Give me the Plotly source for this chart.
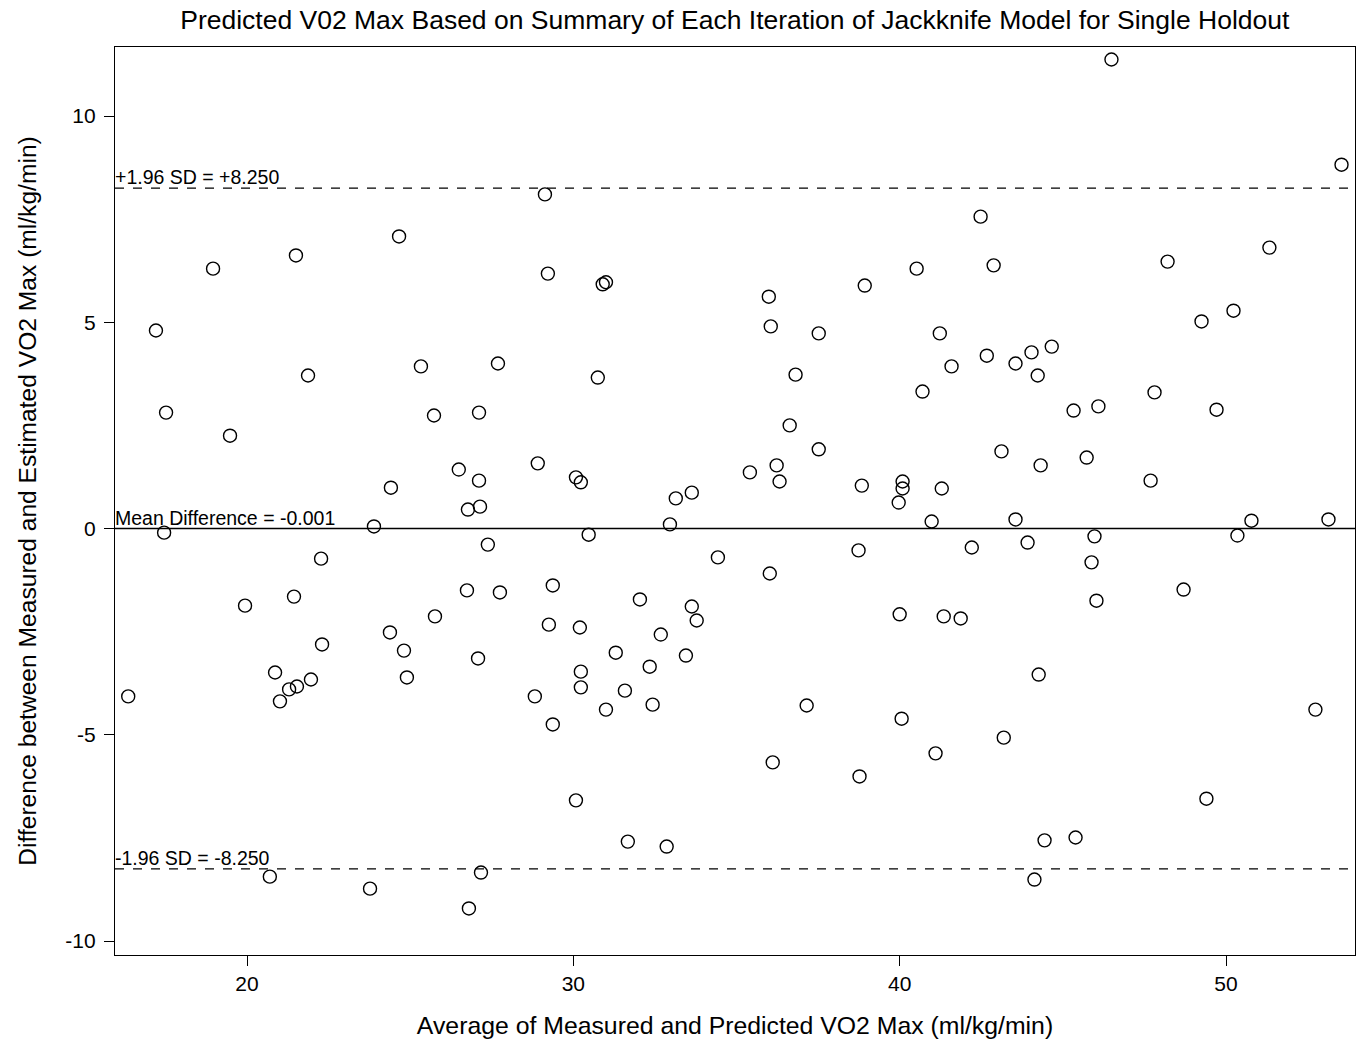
import plotly.graph_objects as go

# Average of measured and predicted VO2 max (ml/kg/min)
avg_vo2 = [
    16.36, 17.21, 17.52, 17.46, 18.96, 19.48, 19.94, 20.70, 20.86, 21.01,
    21.29, 21.53, 21.44, 21.50, 21.87, 21.96, 22.27, 22.30, 23.77, 23.89,
    24.41, 24.38, 24.66, 24.81, 24.90, 25.33, 25.73, 25.76, 26.49, 26.77,
    26.74, 26.80, 27.08, 27.11, 27.11, 27.14, 27.17, 27.38, 27.69, 27.75,
    28.82, 28.91, 29.13, 29.22, 29.25, 29.37, 29.37, 30.08, 30.08, 30.20,
    30.23, 30.23, 30.23, 30.47, 30.75, 30.90, 31.00, 31.00, 31.30, 31.58,
    31.67, 32.04, 32.34, 32.43, 32.68, 32.86, 32.96, 33.14, 33.45, 33.63,
    33.63, 33.78, 34.43, 35.41, 35.99, 36.02, 36.05, 36.11, 36.23, 36.32,
    36.63, 36.81, 37.15, 37.52, 37.52, 38.74, 38.77, 38.84, 38.93, 39.97,
    40.00, 40.06, 40.09, 40.09, 40.52, 40.70, 40.98, 41.10, 41.23, 41.29,
    41.35, 41.59, 41.87, 42.21, 42.48, 42.67, 42.88, 43.12, 43.19, 43.55,
    43.55, 43.92, 44.04, 44.13, 44.23, 44.26, 44.32, 44.44, 44.66, 45.33,
    45.39, 45.73, 45.88, 45.97, 46.03, 46.09, 46.49, 47.69, 47.81, 48.21,
    48.70, 49.25, 49.40, 49.71, 50.23, 50.35, 50.78, 51.33, 52.74, 53.14,
    53.54,
]

# Difference between measured and estimated VO2 max (ml/kg/min)
diff_vo2 = [
    -4.07, 4.80, 2.81, -0.10, 6.30, 2.25, -1.87, -8.44, -3.49, -4.19,
    -3.90, -3.83, -1.65, 6.62, 3.71, -3.66, -0.73, -2.81, -8.73, 0.05,
    0.99, -2.52, 7.08, -2.96, -3.61, 3.93, 2.74, -2.13, 1.43, 0.46,
    -1.50, -9.21, -3.15, 2.81, 1.16, 0.53, -8.34, -0.39, 4.00, -1.55,
    -4.07, 1.58, 8.10, 6.18, -2.33, -1.38, -4.75, 1.24, -6.59, -2.40,
    1.12, -3.47, -3.85, -0.15, 3.66, 5.92, 5.97, -4.39, -3.01, -3.93,
    -7.59, -1.72, -3.35, -4.27, -2.57, -7.71, 0.10, 0.73, -3.08, 0.87,
    -1.89, -2.23, -0.70, 1.36, 5.62, -1.09, 4.90, -5.67, 1.53, 1.14,
    2.50, 3.73, -4.29, 4.73, 1.92, -0.53, -6.01, 1.04, 5.89, 0.63,
    -2.08, -4.61, 1.14, 0.97, 6.30, 3.32, 0.17, -5.45, 4.73, 0.97,
    -2.13, 3.93, -2.18, -0.46, 7.56, 4.19, 6.38, 1.87, -5.07, 4.00,
    0.22, -0.34, 4.27, -8.51, 3.71, -3.54, 1.53, -7.56, 4.41, 2.86,
    -7.49, 1.72, -0.82, -0.19, -1.75, 2.96, 11.37, 1.16, 3.30, 6.47,
    -1.48, 5.02, -6.55, 2.88, 5.28, -0.17, 0.19, 6.81, -4.39, 0.22,
    8.82,
]

mean_diff = -0.001
upper_loa = 8.250
lower_loa = -8.250

x_ticks = [20, 30, 40, 50]
y_ticks = [-10, -5, 0, 5, 10]

FONT = "Liberation Sans, Arial, sans-serif"

fig = go.Figure()
fig.add_trace(go.Scatter(
    x=avg_vo2, y=diff_vo2, mode="markers",
    marker=dict(symbol="circle-open", size=13, color="black",
                line=dict(width=1.4, color="black")),
    showlegend=False, hoverinfo="x+y", cliponaxis=True,
))

fig.add_hline(y=mean_diff, line=dict(color="black", width=1.5))
fig.add_hline(y=upper_loa, line=dict(color="black", width=1.2, dash="dash"))
fig.add_hline(y=lower_loa, line=dict(color="black", width=1.2, dash="dash"))

ann_font = dict(family=FONT, size=19.5, color="black")
for yv, txt in [(upper_loa, "+1.96 SD = +8.250"),
                (mean_diff, "Mean Difference = -0.001"),
                (lower_loa, "-1.96 SD = -8.250")]:
    fig.add_annotation(x=0, xref="paper", y=yv, yref="y", text=txt,
                       showarrow=False, xanchor="left", yanchor="bottom",
                       xshift=-2, yshift=-2, font=ann_font)

fig.update_layout(
    width=1359, height=1040,
    margin=dict(l=115, r=4, t=47, b=85),
    paper_bgcolor="white", plot_bgcolor="white",
    font=dict(family=FONT, color="black"),
    title=dict(text="Predicted V02 Max Based on Summary of Each Iteration of Jackknife Model for Single Holdout",
               x=0.5407, xanchor="center", y=0.981, yanchor="middle",
               font=dict(family=FONT, size=26.5, color="black")),
)
fig.update_xaxes(
    range=[15.955, 53.953], tickvals=x_ticks, ticktext=[str(v) for v in x_ticks],
    showgrid=False, zeroline=False, showline=True, linecolor="black", linewidth=1.2,
    mirror=True, ticks="outside", ticklen=10, tickwidth=1, tickcolor="black",
    tickfont=dict(family=FONT, size=21, color="black"),
    title=dict(text="Average of Measured and Predicted VO2 Max (ml/kg/min)",
               font=dict(family=FONT, size=24.8, color="black"), standoff=22),
)
fig.update_yaxes(
    range=[-10.339, 11.673], tickvals=y_ticks, ticktext=[str(v) for v in y_ticks],
    showgrid=False, zeroline=False, showline=True, linecolor="black", linewidth=1.2,
    mirror=True, ticks="outside", ticklen=10, tickwidth=1, tickcolor="black",
    ticklabelstandoff=4,
    tickfont=dict(family=FONT, size=21, color="black"),
    title=dict(text="Difference between Measured and Estimated VO2 Max (ml/kg/min)",
               font=dict(family=FONT, size=24.6, color="black"), standoff=21),
)

fig.write_html(
    "out.html",
    config={"displayModeBar": False},
    post_script="document.body.style.margin='0';document.body.style.overflow='hidden';",
)
